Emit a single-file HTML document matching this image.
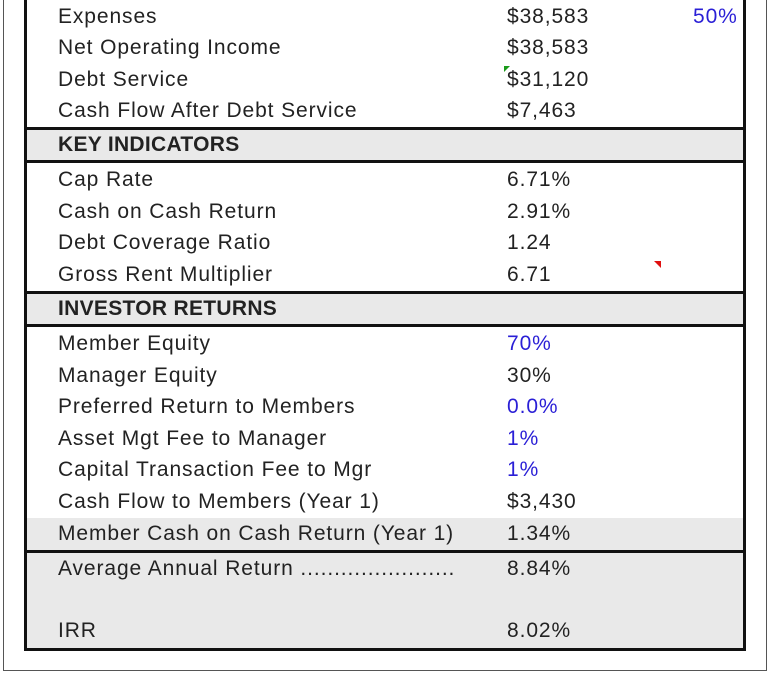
<!DOCTYPE html>
<html><head><meta charset="utf-8"><style>
body{margin:0;width:770px;height:674px;background:#fff;position:relative;overflow:hidden;font-family:"Liberation Sans",Arial,sans-serif;color:#222}
.abs{position:absolute}
.frame{left:3px;top:-2px;width:764px;height:673px;border:1.5px solid #555;border-top:none;box-sizing:border-box}
.box{left:24px;top:-3px;width:722px;height:654px;border:3px solid #111;border-top:none;box-sizing:border-box}
.hl{left:24px;width:722px;height:3px;background:#111}
.band{left:27px;width:716px;background:#e9e9e9}
.t{font-size:21px;letter-spacing:0.9px;line-height:24px;white-space:nowrap}
.lab{left:58px}.val{left:507px}
.blue{color:#2a1fd6}
</style></head><body>
<div class="abs frame"></div>
<div class="abs band" style="top:130px;height:30px"></div>
<div class="abs band" style="top:294px;height:30px"></div>
<div class="abs band" style="top:518px;height:33px"></div>
<div class="abs band" style="top:553px;height:96px"></div>
<div class="abs box"></div>
<div class="abs hl" style="top:127px"></div>
<div class="abs hl" style="top:160px"></div>
<div class="abs hl" style="top:291px"></div>
<div class="abs hl" style="top:324px"></div>
<div class="abs hl" style="top:550px"></div>

<div class="abs t lab" style="top:5px">Expenses</div>
<div class="abs t val" style="top:5px">$38,583</div>
<div class="abs t blue" style="top:5px;left:693px">50%</div>
<div class="abs t lab" style="top:36px">Net Operating Income</div>
<div class="abs t val" style="top:36px">$38,583</div>
<div class="abs t lab" style="top:68px">Debt Service</div>
<div class="abs t val" style="top:68px">$31,120</div>
<div class="abs" style="left:504px;top:66px;width:0;height:0;border-top:6px solid #1a9a1a;border-right:6px solid transparent"></div>
<div class="abs t lab" style="top:99px">Cash Flow After Debt Service</div>
<div class="abs t val" style="top:99px">$7,463</div>

<div class="abs t lab" style="top:133px;font-weight:bold;letter-spacing:0.3px">KEY INDICATORS</div>
<div class="abs t lab" style="top:168px">Cap Rate</div>
<div class="abs t val" style="top:168px">6.71%</div>
<div class="abs t lab" style="top:200px">Cash on Cash Return</div>
<div class="abs t val" style="top:200px">2.91%</div>
<div class="abs t lab" style="top:231px">Debt Coverage Ratio</div>
<div class="abs t val" style="top:231px">1.24</div>
<div class="abs t lab" style="top:263px">Gross Rent Multiplier</div>
<div class="abs t val" style="top:263px">6.71</div>
<div class="abs" style="left:654px;top:261px;width:0;height:0;border-top:7px solid #e01010;border-left:7px solid transparent"></div>

<div class="abs t lab" style="top:297px;font-weight:bold;letter-spacing:0.3px">INVESTOR RETURNS</div>
<div class="abs t lab" style="top:332px">Member Equity</div>
<div class="abs t val blue" style="top:332px">70%</div>
<div class="abs t lab" style="top:364px">Manager Equity</div>
<div class="abs t val" style="top:364px">30%</div>
<div class="abs t lab" style="top:395px">Preferred Return to Members</div>
<div class="abs t val blue" style="top:395px">0.0%</div>
<div class="abs t lab" style="top:427px">Asset Mgt Fee to Manager</div>
<div class="abs t val blue" style="top:427px">1%</div>
<div class="abs t lab" style="top:458px">Capital Transaction Fee to Mgr</div>
<div class="abs t val blue" style="top:458px">1%</div>
<div class="abs t lab" style="top:490px">Cash Flow to Members (Year 1)</div>
<div class="abs t val" style="top:490px">$3,430</div>
<div class="abs t lab" style="top:522px">Member Cash on Cash Return (Year 1)</div>
<div class="abs t val" style="top:522px">1.34%</div>
<div class="abs t lab" style="top:557px">Average Annual Return .......................</div>
<div class="abs t val" style="top:557px">8.84%</div>
<div class="abs t lab" style="top:619px">IRR</div>
<div class="abs t val" style="top:619px">8.02%</div>
</body></html>
